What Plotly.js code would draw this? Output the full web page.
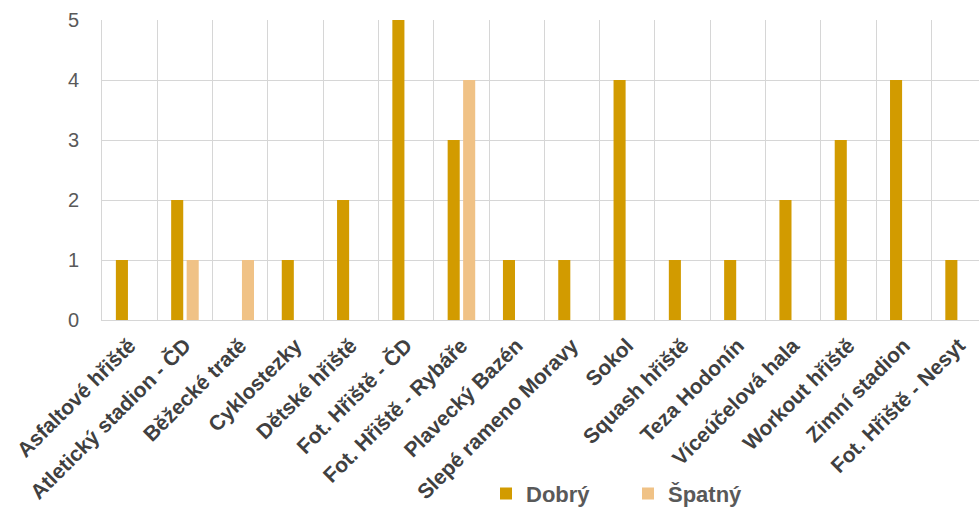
<!DOCTYPE html>
<html>
<head>
<meta charset="utf-8">
<script src="https://cdn.plot.ly/plotly-3.0.1.min.js"></script>
<style>html,body{margin:0;padding:0;background:#fff;}#chart{width:979px;height:508px;}</style>
</head>
<body>
<div id="chart"></div>
<script>
const categories = [
  "Asfaltové hřiště", "Atletický stadion - ČD", "Běžecké tratě", "Cyklostezky",
  "Dětské hřiště", "Fot. Hřiště - ČD", "Fot. Hřiště - Rybáře", "Plavecký Bazén",
  "Slepé rameno Moravy", "Sokol", "Squash hřiště", "Teza Hodonín",
  "Víceúčelová hala", "Workout hřiště", "Zimní stadion", "Fot. Hřiště - Nesyt"
];
const dobry  = [1, 2, 0, 1, 2, 5, 3, 1, 1, 4, 1, 1, 2, 3, 4, 1];
const spatny = [0, 1, 1, 0, 0, 0, 4, 0, 0, 0, 0, 0, 0, 0, 0, 0];
const seriesNames = ["Dobrý", "Špatný"];
const yTicks = [0, 1, 2, 3, 4, 5];

const font = "Liberation Sans, Arial, sans-serif";
const traces = [
  {type: "bar", name: seriesNames[0], x: categories, y: dobry, marker: {color: "#D29B00"}},
  {type: "bar", name: seriesNames[1], x: categories, y: spatny, marker: {color: "#F0C286"}}
];
const layout = {
  width: 979, height: 508,
  margin: {l: 102, r: 0, t: 20, b: 188, pad: 0},
  paper_bgcolor: "#fff", plot_bgcolor: "#fff",
  barmode: "group", bargap: 0.44, bargroupgap: 0.22,
  showlegend: true,
  legend: {
    orientation: "h", xref: "container", yref: "container",
    x: 486/979, xanchor: "left", y: 0.028, yanchor: "middle",
    font: {family: font, size: 22, color: "#595959", weight: "bold"},
    entrywidth: 97, entrywidthmode: "pixels", itemwidth: 30
  },
  xaxis: {
    type: "category", range: [-0.5, 15.36], tickson: "boundaries",
    showgrid: true, gridcolor: "#d6d6d6", gridwidth: 1,
    showline: true, linecolor: "#d6d6d6", linewidth: 1,
    ticks: "", tickangle: -45, automargin: false, ticklabelstandoff: 4,
    tickfont: {family: font, size: 21, color: "#404040", weight: "bold"}
  },
  yaxis: {
    range: [0, 5], tickvals: yTicks, showgrid: true, gridcolor: "#d6d6d6", gridwidth: 1,
    zeroline: false, showline: true, linecolor: "#d6d6d6", linewidth: 1,
    ticks: "", automargin: false,
    ticklabelstandoff: 18,
    tickfont: {family: font, size: 20, color: "#595959"}
  }
};
Plotly.newPlot("chart", traces, layout, {displayModeBar: false, staticPlot: true});
</script>
</body>
</html>
